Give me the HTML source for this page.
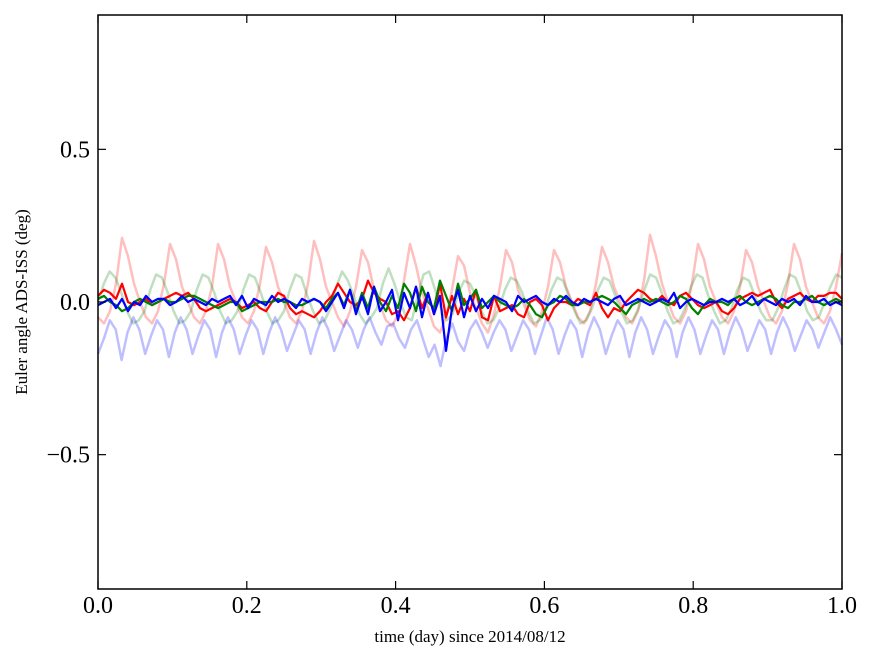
<!DOCTYPE html>
<html><head><meta charset="utf-8"><style>
body{margin:0;background:#fff}
svg text{font-family:"Liberation Serif",serif}
</style></head><body>
<svg id="chart" width="875" height="662" viewBox="0 0 875 662" xmlns="http://www.w3.org/2000/svg">
<rect width="875" height="662" fill="#fff"/>
<g id="series"></g>
<g id="axes"></g>
<text x="470" y="642" text-anchor="middle" font-size="17">time (day) since 2014/08/12</text>
<text transform="translate(27,302) rotate(-90)" text-anchor="middle" font-size="17">Euler angle ADS-ISS (deg)</text>
</svg>
<script>
const xTicks=[0,0.2,0.4,0.6,0.8,1.0];
const xTickLabels=["0.0","0.2","0.4","0.6","0.8","1.0"];
const yTicks=[-0.5,0,0.5];
const yTickLabels=["\u22120.5","0.0","0.5"];
const paleRed=[-0.05,-0.07,-0.03,0.06,0.21,0.15,0.06,0.0,-0.05,-0.07,-0.03,0.06,0.19,0.14,0.05,0.0,-0.05,-0.07,-0.03,0.05,0.19,0.14,0.05,0.0,-0.05,-0.07,-0.03,0.06,0.18,0.13,0.05,0.0,-0.05,-0.07,-0.03,0.06,0.20,0.14,0.05,0.0,-0.05,-0.08,-0.03,0.05,0.17,0.13,0.04,-0.01,-0.06,-0.08,-0.04,0.07,0.19,0.12,0.03,-0.02,-0.08,-0.10,-0.05,0.04,0.15,0.12,0.03,-0.02,-0.07,-0.10,-0.04,0.05,0.17,0.13,0.04,-0.01,-0.06,-0.08,-0.03,0.05,0.17,0.13,0.05,0.0,-0.05,-0.07,-0.03,0.06,0.18,0.13,0.05,0.0,-0.05,-0.07,-0.03,0.07,0.22,0.15,0.06,0.0,-0.05,-0.07,-0.03,0.06,0.19,0.14,0.05,0.0,-0.05,-0.07,-0.03,0.05,0.17,0.13,0.05,0.0,-0.05,-0.07,-0.03,0.06,0.19,0.14,0.05,0.0,-0.05,-0.07,-0.03,0.05,0.16];
const paleGreen=[0.0,0.06,0.1,0.08,0.03,-0.03,-0.07,-0.06,-0.03,0.04,0.09,0.08,0.03,-0.03,-0.07,-0.06,-0.03,0.04,0.09,0.08,0.03,-0.03,-0.07,-0.06,-0.03,0.04,0.09,0.08,0.03,-0.03,-0.07,-0.06,-0.03,0.04,0.09,0.08,0.02,-0.03,-0.07,-0.06,-0.02,0.05,0.10,0.07,0.02,-0.04,-0.07,-0.05,-0.02,0.06,0.11,0.06,0.0,-0.05,-0.06,0.02,0.09,0.10,0.04,-0.02,-0.06,-0.04,0.03,0.07,0.06,0.02,-0.03,-0.07,-0.06,-0.02,0.04,0.08,0.07,0.03,-0.03,-0.07,-0.06,-0.02,0.04,0.08,0.07,0.02,-0.03,-0.07,-0.06,-0.02,0.04,0.08,0.07,0.02,-0.03,-0.07,-0.06,-0.02,0.04,0.09,0.08,0.03,-0.03,-0.07,-0.06,-0.02,0.05,0.09,0.08,0.02,-0.03,-0.07,-0.06,-0.02,0.04,0.08,0.07,0.02,-0.03,-0.06,-0.06,-0.02,0.04,0.09,0.08,0.03,-0.03,-0.06,-0.05,0.0,0.05,0.09,0.08];
const paleBlue=[-0.17,-0.12,-0.06,-0.09,-0.19,-0.10,-0.05,-0.09,-0.17,-0.11,-0.06,-0.09,-0.18,-0.10,-0.05,-0.09,-0.17,-0.11,-0.06,-0.09,-0.18,-0.10,-0.05,-0.09,-0.17,-0.11,-0.06,-0.09,-0.17,-0.10,-0.05,-0.09,-0.16,-0.11,-0.06,-0.09,-0.17,-0.10,-0.05,-0.09,-0.16,-0.11,-0.06,-0.09,-0.15,-0.09,-0.05,-0.10,-0.14,-0.08,-0.07,-0.12,-0.15,-0.09,-0.06,-0.12,-0.18,-0.14,-0.21,-0.12,-0.07,-0.13,-0.16,-0.09,-0.06,-0.10,-0.15,-0.10,-0.06,-0.09,-0.16,-0.11,-0.06,-0.09,-0.17,-0.11,-0.05,-0.09,-0.17,-0.11,-0.06,-0.09,-0.18,-0.10,-0.05,-0.09,-0.17,-0.11,-0.06,-0.09,-0.18,-0.10,-0.05,-0.09,-0.17,-0.11,-0.06,-0.09,-0.18,-0.10,-0.05,-0.09,-0.17,-0.11,-0.06,-0.09,-0.17,-0.10,-0.05,-0.09,-0.16,-0.11,-0.06,-0.09,-0.17,-0.10,-0.05,-0.09,-0.16,-0.11,-0.06,-0.09,-0.15,-0.10,-0.05,-0.09,-0.14];
const boldRed=[0.02,0.04,0.03,0.01,0.06,0.0,-0.01,0.0,0.01,-0.01,0.0,0.01,0.02,0.03,0.02,0.03,0.01,-0.02,-0.03,-0.02,-0.01,0.0,0.01,0.0,-0.02,-0.01,0.0,-0.02,-0.03,0.0,0.03,0.02,-0.02,-0.04,-0.03,-0.04,-0.05,-0.03,0.0,0.02,0.06,0.03,0.0,-0.01,0.01,0.07,0.03,0.01,0.0,-0.04,-0.03,-0.06,-0.02,0.05,-0.02,0.03,-0.04,0.06,-0.05,0.02,-0.04,0.01,-0.03,0.04,-0.05,-0.06,0.02,-0.03,-0.02,-0.01,-0.04,-0.05,0.0,0.01,-0.01,-0.06,-0.02,0.0,0.0,-0.01,0.01,0.0,-0.01,0.03,-0.02,-0.05,-0.02,-0.03,0.0,0.02,0.04,0.03,0.01,0.0,0.02,0.0,-0.01,0.02,0.03,0.01,-0.01,-0.02,-0.01,0.0,-0.03,-0.04,-0.02,0.01,0.02,0.03,0.02,0.03,0.04,0.0,-0.02,0.01,0.02,0.03,0.01,0.0,0.02,0.02,0.03,0.03,0.01];
const boldGreen=[0.01,0.02,0.0,-0.01,-0.03,-0.02,0.0,0.01,0.0,-0.01,0.0,0.01,0.0,0.0,0.01,0.02,0.02,0.01,0.0,-0.01,-0.02,-0.01,0.0,0.0,-0.03,-0.02,-0.01,0.0,0.0,0.0,0.01,0.0,0.0,-0.01,-0.01,0.0,0.01,0.0,-0.02,0.01,0.03,-0.01,0.04,-0.03,0.03,-0.02,0.05,0.0,-0.03,0.02,-0.02,0.06,0.03,-0.03,0.05,0.0,-0.02,0.07,0.02,-0.03,0.06,-0.01,0.01,0.04,-0.02,0.0,0.02,0.0,-0.01,-0.02,-0.01,0.01,-0.01,-0.04,-0.05,-0.01,0.0,0.02,0.01,-0.01,-0.01,0.0,0.0,0.01,0.02,0.01,0.0,-0.02,-0.04,-0.01,0.0,0.01,0.0,0.01,0.0,-0.01,0.0,0.02,0.01,-0.02,-0.04,-0.01,0.01,0.0,0.0,-0.01,0.01,0.02,0.0,-0.01,0.0,0.01,0.02,0.01,-0.01,-0.02,0.0,0.0,0.01,0.02,0.0,-0.01,0.0,0.01,0.0];
const boldBlue=[-0.01,0.0,0.01,-0.02,0.01,-0.03,0.0,-0.01,0.02,0.0,0.01,0.01,-0.01,0.0,0.02,0.0,0.01,0.0,-0.01,0.01,0.0,0.01,0.02,-0.01,0.02,-0.02,0.01,0.0,-0.01,0.02,0.0,0.01,0.0,-0.02,0.01,0.0,0.01,0.0,-0.03,0.0,0.03,-0.02,0.04,-0.04,0.02,-0.04,0.05,-0.03,0.0,0.04,-0.06,0.03,-0.02,0.05,-0.05,0.03,-0.04,0.02,-0.16,-0.02,0.04,-0.05,0.02,-0.03,0.01,-0.02,0.02,0.01,0.0,-0.03,0.02,0.0,0.01,0.02,0.0,-0.01,0.01,0.0,0.02,0.0,-0.01,0.01,0.0,0.01,0.0,-0.01,0.01,0.02,-0.01,0.0,0.01,0.0,-0.01,0.0,0.01,0.0,0.03,-0.02,0.0,0.01,0.0,-0.01,0.0,0.0,0.01,0.0,0.01,-0.01,0.0,0.02,-0.01,0.01,0.0,-0.01,0.01,0.0,0.01,-0.01,0.02,0.0,0.0,0.01,-0.01,0.0,-0.01];
const L=98,R=842,T=15,B=589,YMIN=-0.94,YMAX=0.94;
const xs=t=>L+(R-L)*t;
const ys=v=>B-(B-T)*(v-YMIN)/(YMAX-YMIN);
const NS="http://www.w3.org/2000/svg";
const sg=document.getElementById('series');
const ax=document.getElementById('axes');
function draw(arr,color,width,opacity,name){
  const p=document.createElementNS(NS,'path');
  let d='';
  arr.forEach((v,i)=>{d+=(i?'L':'M')+xs(i/(arr.length-1)).toFixed(1)+','+ys(v).toFixed(1);});
  p.setAttribute('d',d);p.setAttribute('fill','none');p.setAttribute('stroke',color);
  p.setAttribute('stroke-width',width);p.setAttribute('stroke-opacity',opacity);p.setAttribute('stroke-linejoin','round');
  
  
  sg.appendChild(p);
}
draw(paleRed,'#ff0000',2.5,0.25,'pale-red-line');
draw(paleGreen,'#008000',2.5,0.25,'pale-green-line');
draw(paleBlue,'#0000ff',2.5,0.25,'pale-blue-line');
draw(boldRed,'#ff0000',2.2,1,'red-line');
draw(boldGreen,'#008000',2.2,1,'green-line');
draw(boldBlue,'#0000ff',2.2,1,'blue-line');
const frame=document.createElementNS(NS,'rect');
frame.setAttribute('x',L);frame.setAttribute('y',T);frame.setAttribute('width',R-L);frame.setAttribute('height',B-T);
frame.setAttribute('fill','none');frame.setAttribute('stroke','#000');frame.setAttribute('stroke-width','1.5');


ax.appendChild(frame);
function line(x1,y1,x2,y2,name){const l=document.createElementNS(NS,'line');
 l.setAttribute('x1',x1);l.setAttribute('y1',y1);l.setAttribute('x2',x2);l.setAttribute('y2',y2);l.setAttribute('stroke','#000');l.setAttribute('stroke-width','1.2');
 
 
 ax.appendChild(l);}
function text(x,y,s,anchor,name){const t=document.createElementNS(NS,'text');
 t.setAttribute('x',x);t.setAttribute('y',y);t.setAttribute('text-anchor',anchor);t.setAttribute('font-size','24');t.textContent=s;
 
 
 ax.appendChild(t);}
xTicks.forEach((v,i)=>{const x=xs(v);line(x,B,x,B-8,'x-tick');line(x,T,x,T+8,'x-tick-top');text(x,B+24,xTickLabels[i],'middle','x-tick-label');});
yTicks.forEach((v,i)=>{const y=ys(v);line(L,y,L+8,y,'y-tick');line(R,y,R-8,y,'y-tick-right');text(L-8,y+8,yTickLabels[i],'end','y-tick-label');});
</script>
</body></html>
